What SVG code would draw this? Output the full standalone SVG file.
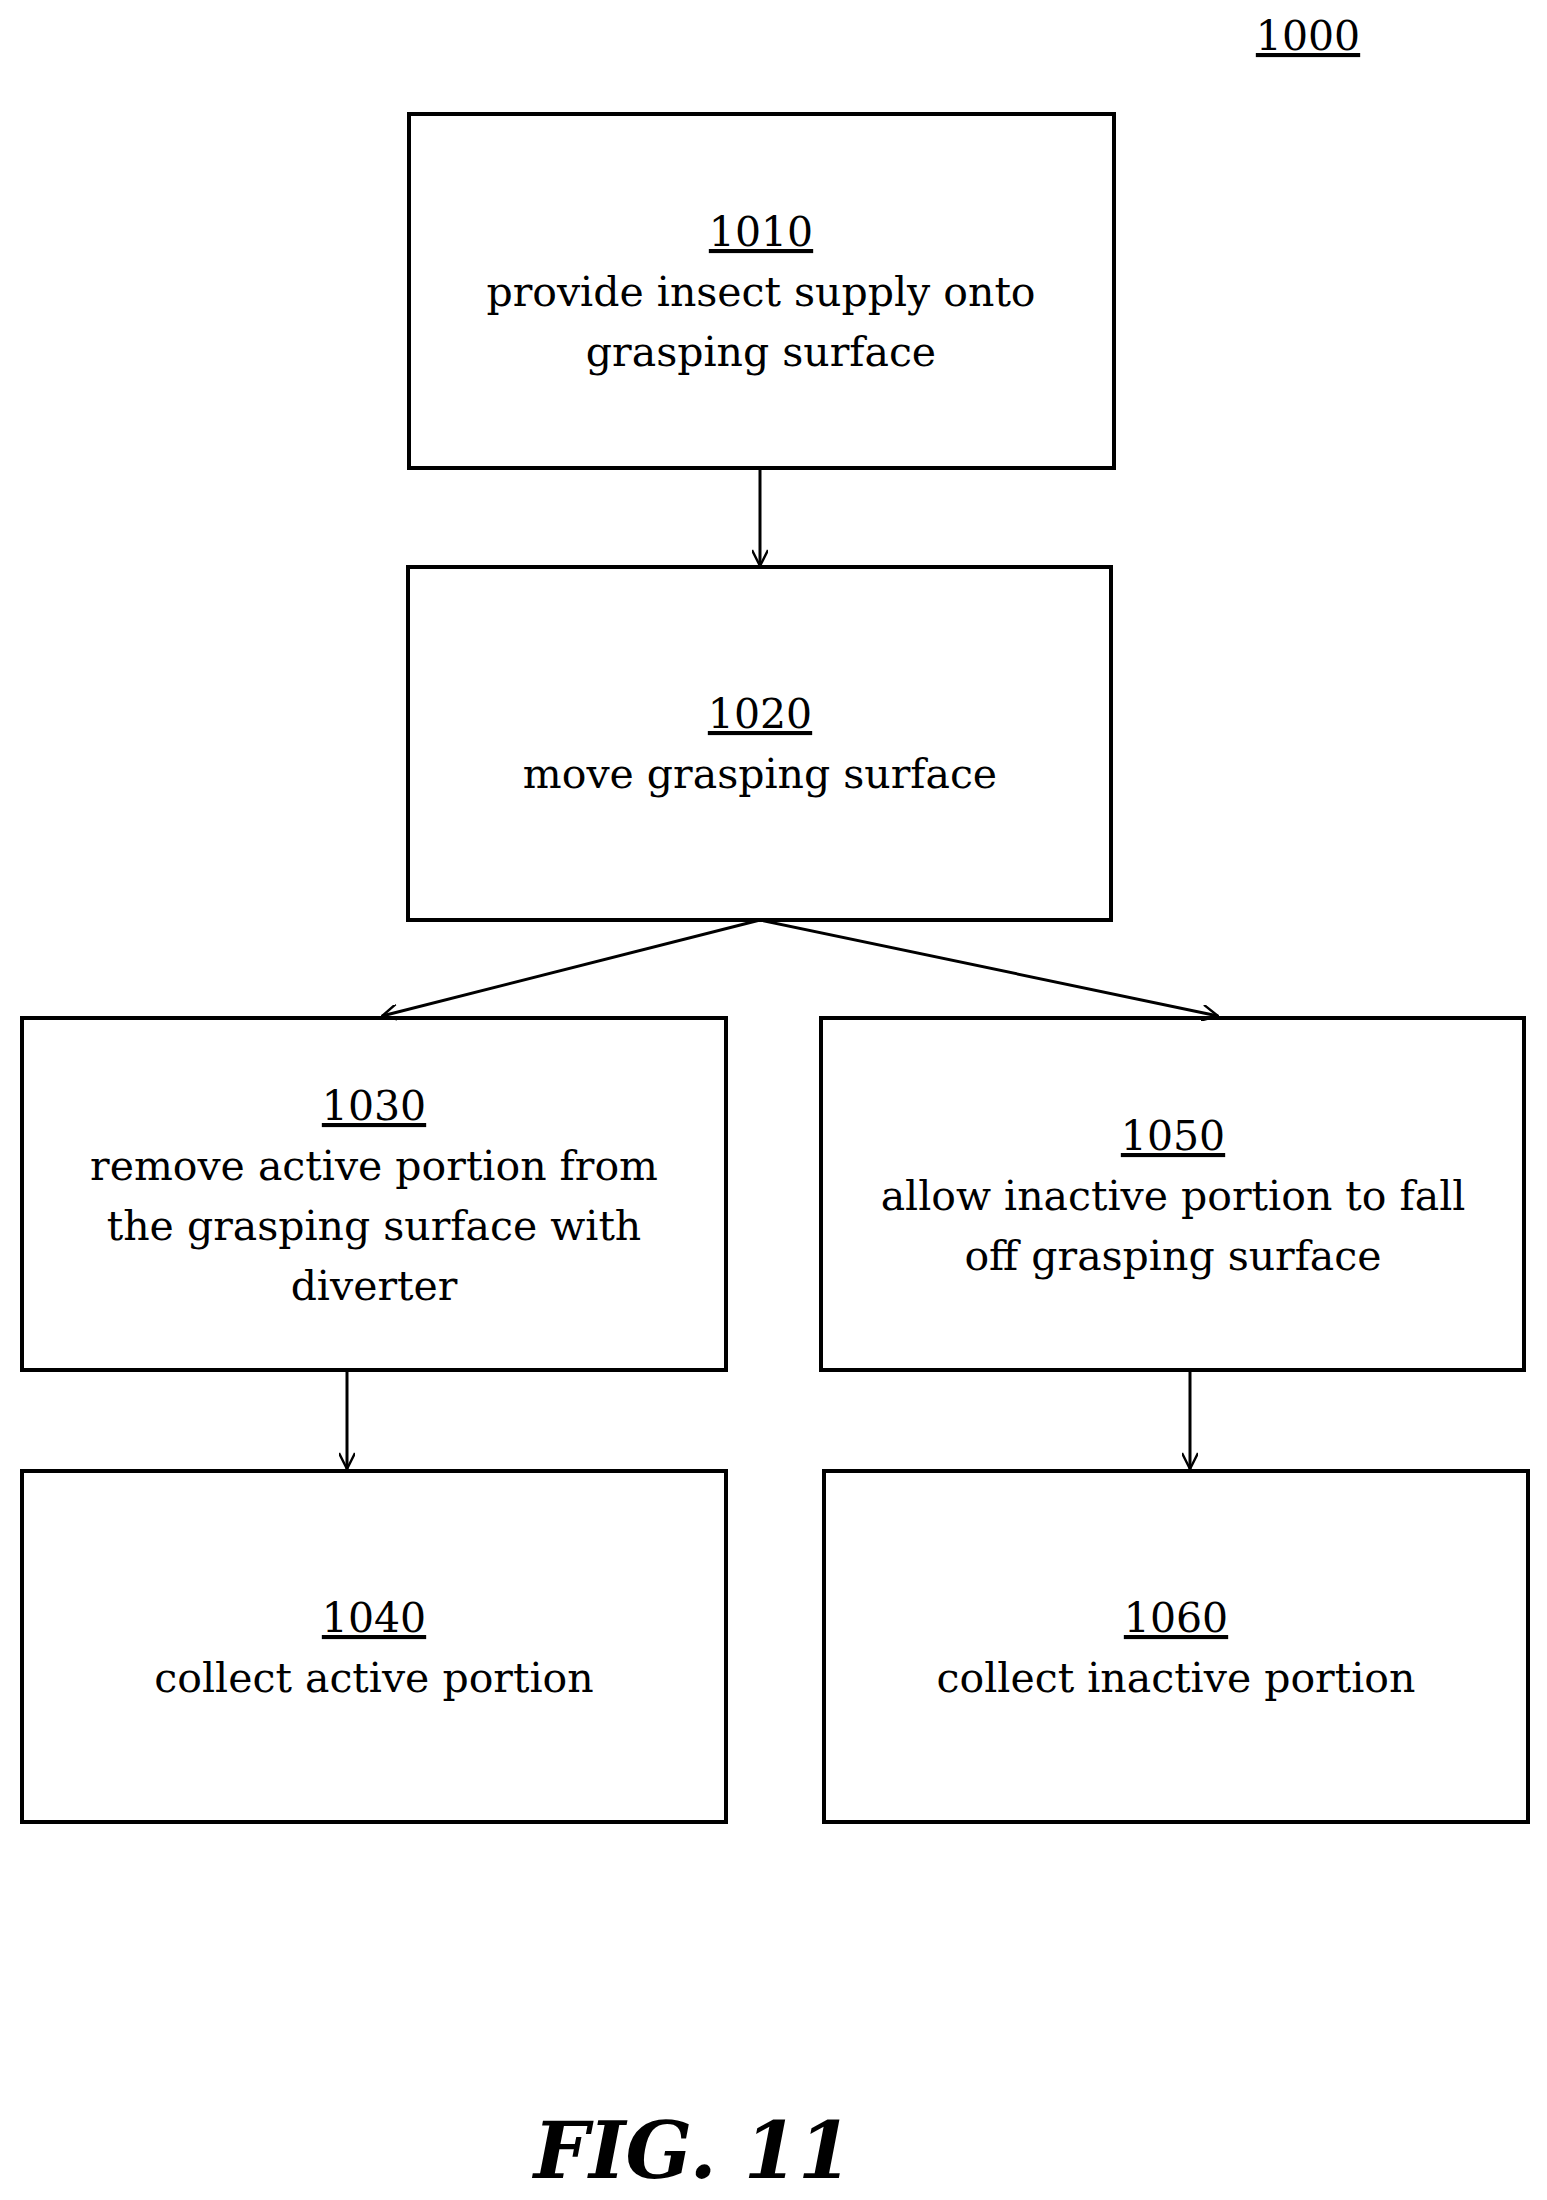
<svg xmlns="http://www.w3.org/2000/svg" width="1547" height="2200" viewBox="0 0 1547 2200">
<style>
.b{fill:#fff;stroke:#000;stroke-width:4}
.t{font-family:"DejaVu Serif","Liberation Serif",serif;font-size:41px;text-anchor:middle;fill:#000}
.u{text-decoration:underline}
.c{stroke:#000;stroke-width:3;fill:none;marker-end:url(#a)}
</style>
<defs><marker id="a" viewBox="0 0 10 10" refX="10" refY="5" markerWidth="18" markerHeight="16" orient="auto" markerUnits="userSpaceOnUse"><path d="M0,0L10,5L0,10" fill="none" stroke="#000" stroke-width="1.5"/></marker></defs>
<rect width="1547" height="2200" fill="#fff"/>
<text class="t u" x="1308" y="50">1000</text>
<g id="n1010"><rect class="b" x="409" y="114" width="705" height="354"/><text class="t"><tspan class="u" x="761" y="246">1010</tspan><tspan x="761" y="306">provide insect supply onto</tspan><tspan x="761" y="366">grasping surface</tspan></text></g>
<g id="n1020"><rect class="b" x="408" y="567" width="703" height="353"/><text class="t"><tspan class="u" x="760" y="728">1020</tspan><tspan x="760" y="788">move grasping surface</tspan></text></g>
<g id="n1030"><rect class="b" x="22" y="1018" width="704" height="352"/><text class="t"><tspan class="u" x="374" y="1120">1030</tspan><tspan x="374" y="1180">remove active portion from</tspan><tspan x="374" y="1240">the grasping surface with</tspan><tspan x="374" y="1300">diverter</tspan></text></g>
<g id="n1050"><rect class="b" x="821" y="1018" width="703" height="352"/><text class="t"><tspan class="u" x="1173" y="1150">1050</tspan><tspan x="1173" y="1210">allow inactive portion to fall</tspan><tspan x="1173" y="1270">off grasping surface</tspan></text></g>
<g id="n1040"><rect class="b" x="22" y="1471" width="704" height="351"/><text class="t"><tspan class="u" x="374" y="1632">1040</tspan><tspan x="374" y="1692">collect active portion</tspan></text></g>
<g id="n1060"><rect class="b" x="824" y="1471" width="704" height="351"/><text class="t"><tspan class="u" x="1176" y="1632">1060</tspan><tspan x="1176" y="1692">collect inactive portion</tspan></text></g>
<g id="connectors">
<line class="c" x1="760" y1="468" x2="760" y2="566"/>
<line class="c" x1="760" y1="920" x2="382" y2="1016"/>
<line class="c" x1="760" y1="920" x2="1218" y2="1016"/>
<line class="c" x1="347" y1="1370" x2="347" y2="1469"/>
<line class="c" x1="1190" y1="1370" x2="1190" y2="1469"/>
</g>
<text x="693" y="2178" style="font-family:'DejaVu Serif',serif;font-size:78px;font-weight:bold;font-style:italic;text-anchor:middle">FIG. 11</text>
</svg>
